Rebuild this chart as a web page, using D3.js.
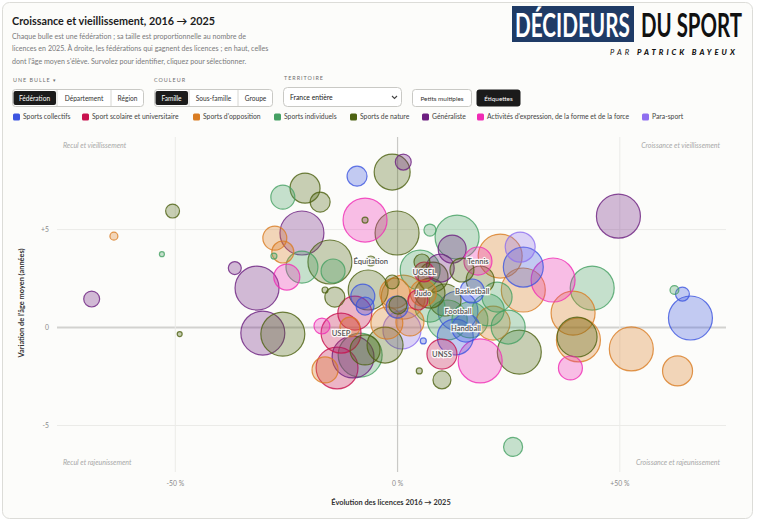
<!DOCTYPE html>
<html>
<head>
<meta charset="utf-8">
<script src="https://d3js.org/d3.v7.min.js"></script>
<style>
  body { margin: 0; background: #fff; font-family: Lato, "Noto Sans", sans-serif; }
  svg text { font-family: Lato, "Noto Sans", sans-serif; }
</style>
</head>
<body>
<svg id="chart" width="759" height="523"></svg>
<script>
// ---- data ----
const families = ["Sports collectifs", "Sport scolaire et universitaire", "Sports d'opposition",
  "Sports individuels", "Sports de nature", "Généraliste",
  "Activités d'expression, de la forme et de la force", "Para-sport"];
const familyColors = ["#3c55e0", "#c8124e", "#d97c22", "#45a063", "#4d6212", "#6c1f80", "#f02cb5", "#8f6ff0"];

// each federation: [évolution licences %, variation âge moyen (années), licences 2025, étiquette]
const collectifs = [
  [-9.0, 7.70, 66000], [-7.7, 1.58, 95000], [-7.2, 1.07, 53500], [0, 1.02, 80000],
  [5.9, -0.71, 6000], [16.9, 1.84, 95000, "Basketball"], [13.7, 0.82, 264000, "Football"],
  [15.5, -0.05, 130000, "Handball"], [13.1, -0.51, 214000], [28.4, 3.06, 264000],
  [66.0, 0.46, 380000], [64.2, 1.68, 32000]
];
const scolaire = [
  [-12.6, -0.31, 264000, "USEP"], [-9.5, 0.71, 191000], [-13.5, -2.09, 290000],
  [6.1, 2.81, 66000, "UGSEL"], [10.1, -1.38, 149000, "UNSS"], [4.7, 1.38, 66000]
];
const opposition = [
  [-63.7, 4.64, 10500], [-27.5, 4.54, 95000], [-25.7, 3.83, 80000], [-10.6, 0, 66000],
  [-16.2, -2.19, 112000], [-2.3, 0.20, 169000], [1.4, 1.53, 320000], [-0.5, 1.73, 149000],
  [2.9, 0.26, 130000], [5.9, 1.73, 112000, "Judo"], [23.2, 3.62, 330000], [28.4, 1.89, 340000],
  [21.6, 0.20, 191000], [39.6, 0.71, 330000], [40.8, -0.66, 330000], [52.7, -1.12, 330000],
  [63.1, -2.24, 149000]
];
const individuels = [
  [-52.9, 3.72, 4100], [-25.7, 6.63, 95000], [-27.7, 3.62, 6000], [-21.4, 3.06, 169000],
  [-14.4, 2.86, 95000], [7.4, 4.95, 24000], [13.5, 4.59, 330000], [5.2, 2.91, 264000],
  [7.4, 1.02, 149000], [11.3, 0.36, 264000], [22.5, 1.53, 149000], [20.5, 0.87, 169000],
  [25.0, 0, 191000], [16.4, 0.36, 214000], [-8.3, -1.43, 340000], [43.9, 1.99, 360000],
  [26.1, -6.12, 60000], [62.4, 1.89, 13000]
];
const nature = [
  [-50.5, 5.92, 32000], [-48.9, -0.36, 4100], [-25.7, -0.36, 420000], [-20.7, 7.09, 149000],
  [-17.3, 6.38, 66000], [-1.1, 7.91, 214000], [-7.2, 5.46, 6000], [0, 4.80, 380000],
  [-15.1, 3.32, 350000], [-16.2, 1.89, 6000], [-14.0, 1.53, 66000], [-5.9, 3.37, 16500, "Équitation"],
  [-6.5, 1.89, 264000], [-1.1, 2.30, 32000], [0.2, 1.12, 53500], [5.6, 3.32, 42000],
  [8.1, 2.55, 149000], [7.4, 1.73, 149000], [18.7, 2.40, 130000], [14.6, 2.91, 95000],
  [10.8, 1.38, 169000], [-7.2, -1.17, 149000], [-2.7, -0.92, 214000], [5.0, -2.24, 6000],
  [10.1, -2.70, 53500], [27.5, -1.28, 400000], [40.5, -0.51, 264000]
];
const generaliste = [
  [-68.7, 1.43, 42000], [-36.5, 3.01, 28000], [-31.5, 1.99, 600000], [-30.2, -0.31, 500000],
  [1.4, 8.42, 42000], [-21.4, 4.80, 450000], [12.4, 3.98, 130000], [9.7, 3.01, 130000],
  [-9.9, -1.53, 290000], [49.8, 5.66, 700000]
];
const expression = [
  [-7.2, 5.46, 340000], [-24.8, 2.55, 112000], [-16.9, 0.05, 42000], [18.2, 3.37, 130000, "Tennis"],
  [35.1, 2.40, 330000], [18.7, -1.73, 330000], [39.0, -2.09, 95000]
];
const parasport = [[1.1, -0.15, 239000], [27.7, 4.08, 149000]];

const xTicks = [-50, 0, 50];
const xTickLabels = ["-50 %", "0 %", "+50 %"];
const yTicks = [-5, 0, 5];
const yTickLabels = ["-5", "0", "+5"];
const quadrants = ["Recul et vieillissement", "Croissance et vieillissement",
  "Recul et rajeunissement", "Croissance et rajeunissement"];

// ---- build the table ----
const groups = [collectifs, scolaire, opposition, individuels, nature, generaliste, expression, parasport];
const feds = [];
groups.forEach((g, fi) => g.forEach(d => feds.push({growth: d[0], age: d[1], lic: d[2], label: d[3], fam: fi})));
feds.sort((a, b) => d3.descending(a.lic, b.lic));

const svg = d3.select("#chart");

// card
svg.append("rect").attr("x", 2.5).attr("y", 2.5).attr("width", 750).attr("height", 516)
  .attr("rx", 7).attr("fill", "#fcfcfa").attr("stroke", "#dcdcd8");

// ---- header ----
svg.append("text").attr("x", 12).attr("y", 25).attr("font-size", 10.8).attr("font-weight", 700)
  .attr("fill", "#1d1d1d").text("Croissance et vieillissement, 2016 → 2025");
const sub = ["Chaque bulle est une fédération ; sa taille est proportionnelle au nombre de",
  "licences en 2025. À droite, les fédérations qui gagnent des licences ; en haut, celles",
  "dont l'âge moyen s'élève. Survolez pour identifier, cliquez pour sélectionner."];
svg.append("g").selectAll("text").data(sub).join("text")
  .attr("x", 12).attr("y", (d, i) => 39 + i * 12.3).attr("font-size", 7.1).attr("fill", "#7a7a7a").text(d => d);

// logo: condensed bold words, fitted to the box widths then stretched vertically
const logo = svg.append("g");
logo.append("rect").attr("x", 512).attr("y", 6).attr("width", 122).attr("height", 36).attr("fill", "#1f3b66");
function logoWord(x0, width, t, color) {
  const g = logo.append("g");
  const txt = g.append("text").attr("font-family", "'DejaVu Sans Condensed', 'Liberation Sans Narrow', sans-serif")
    .attr("font-weight", 700).attr("font-size", 20).attr("fill", color).text(t);
  const fs = 20 * width / txt.node().getComputedTextLength();
  txt.attr("font-size", fs);
  g.attr("transform", `translate(${x0},37) scale(1,${(24 / 0.73) / fs})`);
}
logoWord(515, 115, "DÉCIDEURS", "#fff");
logoWord(641, 101, "DU SPORT", "#111");
const par = logo.append("text").attr("x", 610).attr("y", 55).attr("font-size", 7.6).attr("font-style", "italic")
  .attr("fill", "#111").attr("letter-spacing", 3);
par.append("tspan").attr("font-weight", 400).text("PAR ");
par.append("tspan").attr("font-weight", 900).text("PATRICK BAYEUX");

// ---- controls ----
function label(x, y, t) {
  svg.append("text").attr("x", x).attr("y", y).attr("font-size", 5.4).attr("letter-spacing", 1)
    .attr("fill", "#6f6f6f").text(t);
}
function segmented(x0, edges, names, active) {
  const g = svg.append("g");
  const x1 = edges[edges.length - 1];
  g.append("rect").attr("x", x0 + 0.5).attr("y", 89.5).attr("width", x1 - x0 - 1).attr("height", 17)
    .attr("rx", 3).attr("fill", "#fff").attr("stroke", "#c9c9c5");
  const starts = [x0].concat(edges.slice(0, -1));
  starts.forEach((s, i) => {
    const e = edges[i];
    if (i === active) {
      g.append("rect").attr("x", s + 1.5).attr("y", 91).attr("width", e - s - 2.5).attr("height", 14)
        .attr("rx", 2).attr("fill", "#1b1b1b");
    }
    if (i > 0) g.append("line").attr("x1", s).attr("x2", s).attr("y1", 90).attr("y2", 106).attr("stroke", "#d6d6d2");
    g.append("text").attr("x", (s + e) / 2).attr("y", 100.5).attr("text-anchor", "middle")
      .attr("font-size", 6.6).attr("fill", i === active ? "#fff" : "#333").text(names[i]);
  });
}
label(13, 82, "UNE BULLE ▾");
segmented(12, [57, 111, 144], ["Fédération", "Département", "Région"], 0);
label(154, 82, "COULEUR");
segmented(154, [189, 238, 273], ["Famille", "Sous-famille", "Groupe"], 0);
label(284, 80, "TERRITOIRE");
svg.append("rect").attr("x", 283.5).attr("y", 87.5).attr("width", 118).attr("height", 19).attr("rx", 4)
  .attr("fill", "#fff").attr("stroke", "#c9c9c5");
svg.append("text").attr("x", 290).attr("y", 99.5).attr("font-size", 6.8).attr("fill", "#222").text("France entière");
svg.append("path").attr("d", "M392,96 l2.5,2.5 l2.5,-2.5").attr("fill", "none").attr("stroke", "#444").attr("stroke-width", 1.1);
svg.append("rect").attr("x", 412.5).attr("y", 89.5).attr("width", 59).attr("height", 17).attr("rx", 3)
  .attr("fill", "#fff").attr("stroke", "#c9c9c5");
svg.append("text").attr("x", 442).attr("y", 100.5).attr("text-anchor", "middle").attr("font-size", 6.4)
  .attr("fill", "#333").text("Petits multiples");
svg.append("rect").attr("x", 476.5).attr("y", 89.5).attr("width", 44).attr("height", 17).attr("rx", 3).attr("fill", "#1b1b1b");
svg.append("text").attr("x", 498.5).attr("y", 100.5).attr("text-anchor", "middle").attr("font-size", 6.4)
  .attr("fill", "#fff").text("Étiquettes");

// legend
const legendX = [13, 82, 193, 274, 350, 422, 477, 642];
const leg = svg.append("g").selectAll("g").data(families).join("g")
  .attr("transform", (d, i) => `translate(${legendX[i]},117)`);
leg.append("rect").attr("x", 0).attr("y", -3.5).attr("width", 7).attr("height", 7).attr("rx", 1.5)
  .attr("fill", (d, i) => familyColors[i]);
leg.append("text").attr("x", 10).attr("y", 2.4).attr("font-size", 6.8).attr("fill", "#444").text(d => d);

// ---- plot ----
const x = d3.scaleLinear().domain([-76.5, 74]).range([57, 726]);
const y = d3.scaleLinear().domain([-7.4, 9.7]).range([472, 137]);
const r = d3.scaleSqrt().domain([0, 320000]).range([0, 22]).clamp(true);

const gy = svg.append("g").attr("transform", "translate(57,0)")
  .call(d3.axisLeft(y).tickValues(yTicks).tickSize(-669).tickPadding(8).tickFormat((d, i) => yTickLabels[i]));
const gx = svg.append("g").attr("transform", "translate(0,472)")
  .call(d3.axisBottom(x).tickValues(xTicks).tickSize(-335).tickPadding(9).tickFormat((d, i) => xTickLabels[i]));
[gx, gy].forEach(g => {
  g.select(".domain").remove();
  g.selectAll(".tick line").attr("stroke", d => d === 0 ? "#c9c9c6" : "#ebebe8")
    .attr("stroke-width", d => d === 0 ? 1.2 : 1);
  g.selectAll(".tick text").attr("fill", "#8a8a8a").attr("font-size", 6.8)
    .attr("font-family", "Lato, sans-serif");
});
gy.selectAll(".tick line").filter(d => d === 0).attr("stroke-width", 2).attr("stroke", "#d2d2cf");

// quadrant labels
const q = svg.append("g").attr("font-size", 7).attr("font-style", "italic").attr("fill", "#a8a8a8");
q.append("text").attr("x", 63).attr("y", 148).text(quadrants[0]);
q.append("text").attr("x", 720).attr("y", 148).attr("text-anchor", "end").text(quadrants[1]);
q.append("text").attr("x", 63).attr("y", 465).text(quadrants[2]);
q.append("text").attr("x", 720).attr("y", 465).attr("text-anchor", "end").text(quadrants[3]);

// axis titles
svg.append("text").attr("x", 391).attr("y", 505).attr("text-anchor", "middle").attr("font-size", 7.4)
  .attr("font-weight", 700).attr("fill", "#333").text("Évolution des licences 2016 → 2025");
svg.append("text").attr("transform", "translate(24,303) rotate(-90)").attr("text-anchor", "middle")
  .attr("font-size", 7.4).attr("font-weight", 700).attr("fill", "#333").text("Variation de l'âge moyen (années)");

// bubbles
svg.append("g").selectAll("circle").data(feds).join("circle")
  .attr("cx", d => x(d.growth)).attr("cy", d => y(d.age)).attr("r", d => Math.max(2.2, r(d.lic)))
  .attr("fill", d => familyColors[d.fam]).attr("fill-opacity", 0.3)
  .attr("stroke", d => familyColors[d.fam]).attr("stroke-opacity", 0.8).attr("stroke-width", 1.2);

// labels
svg.append("g").selectAll("text").data(feds.filter(d => d.label)).join("text")
  .attr("x", d => x(d.growth)).attr("y", d => y(d.age)).attr("dy", "0.35em").attr("text-anchor", "middle")
  .attr("font-size", 7.6).attr("font-weight", 600).attr("fill", "#555")
  .attr("stroke", "rgba(255,255,255,0.9)").attr("stroke-width", 2.4).attr("paint-order", "stroke")
  .text(d => d.label);
</script>
</body>
</html>
